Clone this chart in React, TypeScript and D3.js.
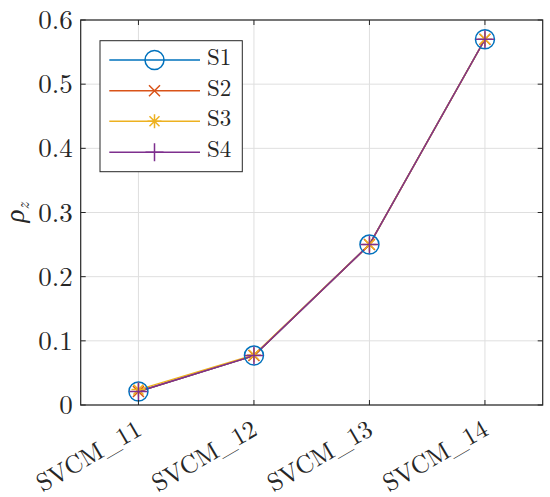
import React from "react";
import * as d3 from "d3";

const categories = ["SVCM_11", "SVCM_12", "SVCM_13", "SVCM_14"];
const seriesNames = ["S1", "S2", "S3", "S4"];
const s1 = [0.021, 0.077, 0.25, 0.57];
const s2 = [0.021, 0.077, 0.25, 0.57];
const s3 = [0.024, 0.078, 0.25, 0.57];
const s4 = [0.021, 0.077, 0.25, 0.57];
const seriesValues = [s1, s2, s3, s4];
const colors = ["#0072BD", "#D95319", "#EDB120", "#7E2F8E"];
const markers = ["circle", "x", "asterisk", "plus"];
const yTicks = [0, 0.1, 0.2, 0.3, 0.4, 0.5, 0.6];

const W = 550, H = 497;
const L = 80.7, R = 542.7, T = 20, B = 405;
const FONT = '"Latin Modern Roman", "Liberation Serif", serif';
const AX = "#262626";
const tstyle = { fontFamily: FONT };

function Marker({ type, cx, cy, color }: { type: string; cx: number; cy: number; color: string }) {
  const sw = 1.5;
  if (type === "circle") return <circle cx={cx} cy={cy} r={9.5} fill="none" stroke={color} strokeWidth={sw} />;
  if (type === "x") {
    const s = 5.5;
    return <path d={`M${cx - s},${cy - s}L${cx + s},${cy + s}M${cx - s},${cy + s}L${cx + s},${cy - s}`} stroke={color} strokeWidth={sw} fill="none" />;
  }
  if (type === "asterisk") {
    const s = 7, d = 5;
    return <path d={`M${cx},${cy - s}L${cx},${cy + s}M${cx - s},${cy}L${cx + s},${cy}M${cx - d},${cy - d}L${cx + d},${cy + d}M${cx - d},${cy + d}L${cx + d},${cy - d}`} stroke={color} strokeWidth={sw} fill="none" />;
  }
  const s = 9;
  return <path d={`M${cx},${cy - s}L${cx},${cy + s}M${cx - s},${cy}L${cx + s},${cy}`} stroke={color} strokeWidth={sw} fill="none" />;
}

export default function App() {
  const x = d3.scaleLinear().domain([0.5, 4.5]).range([L, R]);
  const y = d3.scaleLinear().domain([0, 0.6]).range([B, T]);
  const line = d3.line<number>().x((_, i) => x(i + 1)).y((v) => y(v));
  const tl = 5;

  const legX = 100, legY = 40.7, legW = 142.3, legH = 131;
  const legRows = [60, 90.7, 121.3, 152.3];

  return (
    <svg width={W} height={H} style={{ position: "absolute", left: 0, top: 0, background: "#fff" }}>
      <rect x={0} y={0} width={W} height={H} fill="#fff" />
      {categories.map((_, i) => (
        <line key={"gx" + i} x1={x(i + 1)} x2={x(i + 1)} y1={T} y2={B} stroke="#dfdfdf" strokeWidth={1} />
      ))}
      {yTicks.map((t) => (
        <line key={"gy" + t} x1={L} x2={R} y1={y(t)} y2={y(t)} stroke="#dfdfdf" strokeWidth={1} />
      ))}
      {seriesValues.map((vals, si) => (
        <path key={"s" + si} d={line(vals) || ""} fill="none" stroke={colors[si]} strokeWidth={1.5} />
      ))}
      {seriesValues.map((vals, si) => (
        <g key={"m" + si}>
          {vals.map((v, i) => (
            <Marker key={i} type={markers[si]} cx={x(i + 1)} cy={y(v)} color={colors[si]} />
          ))}
        </g>
      ))}
      <rect x={L} y={T} width={R - L} height={B - T} fill="none" stroke={AX} strokeWidth={1.2} />
      {categories.map((_, i) => (
        <g key={"tx" + i}>
          <line x1={x(i + 1)} x2={x(i + 1)} y1={B} y2={B - tl} stroke={AX} strokeWidth={1} />
          <line x1={x(i + 1)} x2={x(i + 1)} y1={T} y2={T + tl} stroke={AX} strokeWidth={1} />
        </g>
      ))}
      {yTicks.map((t) => (
        <g key={"ty" + t}>
          <line x1={L} x2={L + tl} y1={y(t)} y2={y(t)} stroke={AX} strokeWidth={1} />
          <line x1={R} x2={R - tl} y1={y(t)} y2={y(t)} stroke={AX} strokeWidth={1} />
          <text x={L - 8} y={y(t) + 9} textAnchor="end" fontSize={27} fill={AX} style={tstyle}>
            {d3.format("")(t)}
          </text>
        </g>
      ))}
      {categories.map((c, i) => (
        <text key={"xl" + c} transform={`translate(${x(i + 1) + 5},${434}) rotate(-30)`} textAnchor="end" fontSize={25} fill={AX} style={tstyle}>
          {c}
        </text>
      ))}
      <text transform={`translate(24,${(T + B) / 2}) rotate(-90)`} textAnchor="middle" fontSize={27} fill={AX} style={tstyle}>
        <tspan fontStyle="italic">ρ</tspan>
        <tspan fontStyle="italic" fontSize={17} dy={5}>z</tspan>
      </text>
      <rect x={legX} y={legY} width={legW} height={legH} fill="#fff" stroke={AX} strokeWidth={1} />
      {seriesNames.map((n, si) => (
        <g key={"lg" + n}>
          <line x1={109.3} x2={200} y1={legRows[si]} y2={legRows[si]} stroke={colors[si]} strokeWidth={1.5} />
          <Marker type={markers[si]} cx={154.5} cy={legRows[si]} color={colors[si]} />
          <text x={207} y={legRows[si] + 5} fontSize={23} fill={AX} style={tstyle}>
            {n}
          </text>
        </g>
      ))}
    </svg>
  );
}
